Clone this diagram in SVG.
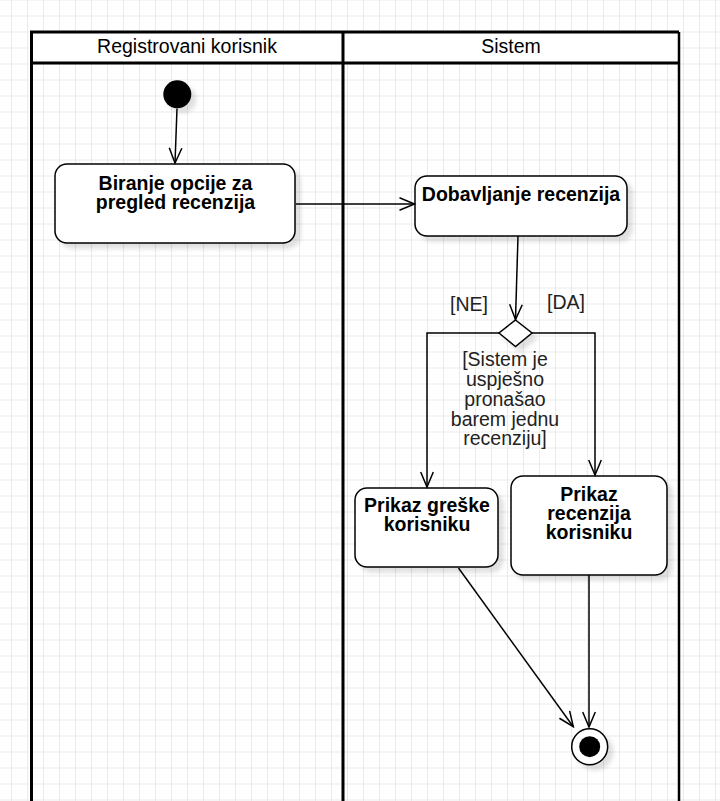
<svg xmlns="http://www.w3.org/2000/svg" width="720" height="801" viewBox="0 0 720 801">
  <defs>
    <pattern id="grid" width="16" height="16" patternUnits="userSpaceOnUse" x="11" y="15.5">
      <path d="M0.5 0 V16 M0 0.5 H16" fill="none" stroke="#eaeaea" stroke-width="1"/>
    </pattern>
    <filter id="sh" x="-20%" y="-20%" width="150%" height="150%">
      <feDropShadow dx="5" dy="5" stdDeviation="2" flood-color="#000" flood-opacity="0.12"/>
    </filter>
    <marker id="arr" markerUnits="userSpaceOnUse" markerWidth="20" markerHeight="16" viewBox="-17 -8 19 16" refX="0" refY="0" orient="auto" overflow="visible">
      <path d="M-15 -6.3 L0 0 L-15 6.3" fill="none" stroke="#000" stroke-width="1.5"/>
    </marker>
    <style>
      .lane { fill: none; stroke: #000; stroke-width: 3; }
      .hdr { font-family: "Liberation Sans", Arial, sans-serif; font-size: 19.5px; fill: #000; text-anchor: middle; }
      .box { fill: #fff; stroke: #000; stroke-width: 1.5; filter: url(#sh); }
      .btxt { font-family: "Liberation Sans", Arial, sans-serif; font-size: 19.5px; font-weight: bold; fill: #000; text-anchor: middle; }
      .lbl { font-family: "Liberation Sans", Arial, sans-serif; font-size: 19.5px; fill: #222; text-anchor: middle; }
      .edge { fill: none; stroke: #000; stroke-width: 1.5; marker-end: url(#arr); }
    </style>
  </defs>

  <rect x="0" y="0" width="720" height="801" fill="#fff"/>
  <rect x="0" y="0" width="720" height="801" fill="url(#grid)"/>

  <g id="swimlanes">
    <rect x="31.5" y="32" width="647.5" height="31" fill="#fff"/>
    <path class="lane" d="M31.5 805 V32 H679 M31.5 63 H679 M343 32 V805"/>
    <path d="M679 32 V805" fill="none" stroke="#000" stroke-width="2.5"/>
    <text class="hdr" x="187" y="53">Registrovani korisnik</text>
    <text class="hdr" x="511" y="53">Sistem</text>
  </g>

  <g id="start">
    <circle cx="177.3" cy="94.3" r="14" fill="#000" filter="url(#sh)"/>
  </g>

  <g id="biranje">
    <rect class="box" x="55" y="164" width="240" height="79" rx="12" ry="12"/>
    <text class="btxt" x="175.5" y="189.5">Biranje opcije za</text>
    <text class="btxt" x="175.5" y="208.5">pregled recenzija</text>
  </g>

  <g id="dobavljanje">
    <rect class="box" x="415" y="176" width="212" height="60" rx="12" ry="12"/>
    <text class="btxt" x="521" y="201">Dobavljanje recenzija</text>
  </g>

  <g id="decision">
    <path d="M515.5 320 L532 333 L515.5 346.5 L499 333 Z" fill="#fff" stroke="#000" stroke-width="1.5" filter="url(#sh)"/>
  </g>

  <g id="prikaz-greske">
    <rect class="box" x="355" y="488" width="143" height="79" rx="12" ry="12"/>
    <text class="btxt" x="427" y="512">Prikaz greške</text>
    <text class="btxt" x="427" y="531">korisniku</text>
  </g>

  <g id="prikaz-recenzija">
    <rect class="box" x="511" y="476" width="156" height="99" rx="12" ry="12"/>
    <text class="btxt" x="589" y="501">Prikaz</text>
    <text class="btxt" x="589" y="520">recenzija</text>
    <text class="btxt" x="589" y="539">korisniku</text>
  </g>

  <g id="end">
    <circle cx="589.7" cy="746.7" r="18" fill="#fff" stroke="#000" stroke-width="1.5" filter="url(#sh)"/>
    <circle cx="589.7" cy="746.7" r="10.5" fill="#000"/>
  </g>

  <g id="connectors">
    <path class="edge" d="M177 108.5 L175 163"/>
    <path class="edge" d="M296 204 L414.5 204"/>
    <path class="edge" d="M518 236 L515.5 319.5"/>
    <path class="edge" d="M499 333 H427 V487"/>
    <path class="edge" d="M532 333 H595 V475"/>
    <path class="edge" d="M458.5 568 L573.3 726.7"/>
    <path class="edge" d="M589 575 V727"/>
  </g>

  <g id="labels">
    <text class="lbl" x="469" y="311">[NE]</text>
    <text class="lbl" x="566" y="309">[DA]</text>
    <text class="lbl" x="505" y="366">[Sistem je</text>
    <text class="lbl" x="505" y="386">uspješno</text>
    <text class="lbl" x="505" y="406">pronašao</text>
    <text class="lbl" x="505" y="426">barem jednu</text>
    <text class="lbl" x="505" y="445">recenziju]</text>
  </g>
</svg>
